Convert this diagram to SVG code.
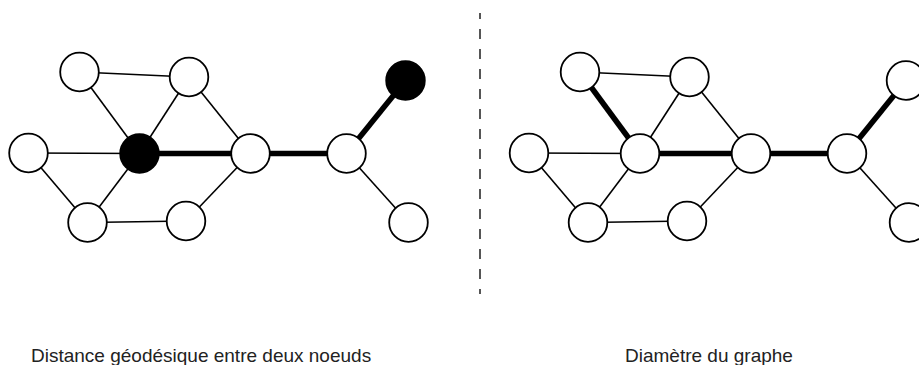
<svg xmlns="http://www.w3.org/2000/svg" width="919" height="365" viewBox="0 0 919 365">
<style>
.e{stroke:#000;stroke-width:1.6;fill:none}
.t{stroke:#000;stroke-width:5.5;fill:none}
.n{fill:#fff;stroke:#000;stroke-width:1.8}
.b{fill:#000;stroke:#000;stroke-width:1.8}
.lbl{font-family:"Liberation Sans",Arial,sans-serif;font-size:19px;fill:#222}
</style>
<rect width="919" height="365" fill="#fff"/>
<line x1="480" y1="13" x2="480" y2="294" stroke="#555" stroke-width="2" stroke-dasharray="10 10" stroke-dashoffset="4"/>
<g id="connectors">
<g id="left-edges">
<line class="e" x1="79.5" y1="72" x2="189" y2="77"/>
<line class="e" x1="79.5" y1="72" x2="139.5" y2="153.5"/>
<line class="e" x1="189" y1="77" x2="139.5" y2="153.5"/>
<line class="e" x1="189" y1="77" x2="250.5" y2="153.5"/>
<line class="e" x1="28.5" y1="153" x2="139.5" y2="153.5"/>
<line class="e" x1="28.5" y1="153" x2="87.5" y2="222.5"/>
<line class="e" x1="139.5" y1="153.5" x2="87.5" y2="222.5"/>
<line class="e" x1="87.5" y1="222.5" x2="186" y2="221"/>
<line class="e" x1="186" y1="221" x2="250.5" y2="153.5"/>
<line class="e" x1="346.5" y1="153.5" x2="408.5" y2="222.5"/>
<line class="t" x1="139.5" y1="153.5" x2="250.5" y2="153.5"/>
<line class="t" x1="250.5" y1="153.5" x2="346.5" y2="153.5"/>
<line class="t" x1="346.5" y1="153.5" x2="405.5" y2="80.5"/>
</g>
<g id="right-edges">
<line class="e" x1="580" y1="72" x2="689.5" y2="77"/>
<line class="t" x1="580" y1="72" x2="640" y2="153.5"/>
<line class="e" x1="689.5" y1="77" x2="640" y2="153.5"/>
<line class="e" x1="689.5" y1="77" x2="751" y2="153.5"/>
<line class="e" x1="529" y1="153" x2="640" y2="153.5"/>
<line class="e" x1="529" y1="153" x2="588" y2="222.5"/>
<line class="e" x1="640" y1="153.5" x2="588" y2="222.5"/>
<line class="e" x1="588" y1="222.5" x2="687" y2="221"/>
<line class="e" x1="687" y1="221" x2="751" y2="153.5"/>
<line class="e" x1="847" y1="153.5" x2="909" y2="222.5"/>
<line class="t" x1="640" y1="153.5" x2="751" y2="153.5"/>
<line class="t" x1="751" y1="153.5" x2="847" y2="153.5"/>
<line class="t" x1="847" y1="153.5" x2="906" y2="80.5"/>
</g>
</g>
<g id="L-A"><circle class="n" cx="79.5" cy="72" r="19.3"/></g>
<g id="L-B"><circle class="n" cx="189" cy="77" r="19.3"/></g>
<g id="L-C"><circle class="n" cx="28.5" cy="153" r="19.3"/></g>
<g id="L-D"><circle class="b" cx="139.5" cy="153.5" r="19.3"/></g>
<g id="L-E"><circle class="n" cx="250.5" cy="153.5" r="19.3"/></g>
<g id="L-F"><circle class="n" cx="346.5" cy="153.5" r="19.3"/></g>
<g id="L-G"><circle class="b" cx="405.5" cy="80.5" r="19.3"/></g>
<g id="L-H"><circle class="n" cx="87.5" cy="222.5" r="19.3"/></g>
<g id="L-I"><circle class="n" cx="186" cy="221" r="19.3"/></g>
<g id="L-J"><circle class="n" cx="408.5" cy="222.5" r="19.3"/></g>
<g id="R-A"><circle class="n" cx="580" cy="72" r="19.3"/></g>
<g id="R-B"><circle class="n" cx="689.5" cy="77" r="19.3"/></g>
<g id="R-C"><circle class="n" cx="529" cy="153" r="19.3"/></g>
<g id="R-D"><circle class="n" cx="640" cy="153.5" r="19.3"/></g>
<g id="R-E"><circle class="n" cx="751" cy="153.5" r="19.3"/></g>
<g id="R-F"><circle class="n" cx="847" cy="153.5" r="19.3"/></g>
<g id="R-G"><circle class="n" cx="906" cy="80.5" r="19.3"/></g>
<g id="R-H"><circle class="n" cx="588" cy="222.5" r="19.3"/></g>
<g id="R-I"><circle class="n" cx="687" cy="221" r="19.3"/></g>
<g id="R-J"><circle class="n" cx="909" cy="222.5" r="19.3"/></g>
<text class="lbl" x="31" y="362">Distance géodésique entre deux noeuds</text>
<text class="lbl" x="625" y="362">Diamètre du graphe</text>
</svg>
